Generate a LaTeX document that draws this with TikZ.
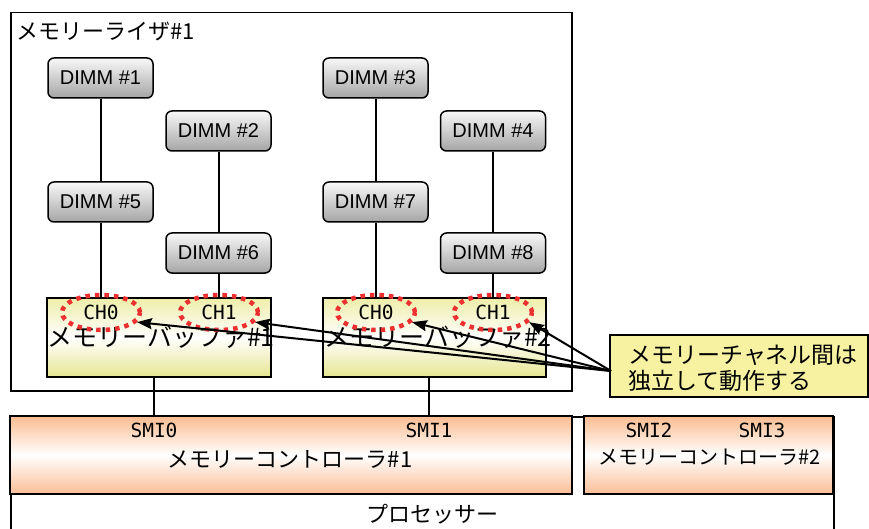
\documentclass[tikz,border=0pt]{standalone}
\usepackage{fontspec}
\setmainfont{Noto Sans CJK JP}
\newfontfamily\dimmfnt{Liberation Sans}
\newfontfamily\smifnt{DejaVu Sans Mono}
\usetikzlibrary{arrows.meta,shapes.geometric}
\definecolor{dimmtop}{RGB}{248,248,248}
\definecolor{dimmbot}{RGB}{165,165,165}
\definecolor{buftop}{RGB}{238,238,170}
\definecolor{bufbot}{RGB}{230,230,145}
\definecolor{ctrltop}{RGB}{250,188,145}
\definecolor{ctrlbot}{RGB}{250,190,150}
\definecolor{chred}{RGB}{236,48,48}
\definecolor{notefill}{RGB}{246,242,162}
\tikzset{
  dimmbox/.style={draw, rounded corners=6pt, line width=1.5pt, top color=dimmtop, bottom color=dimmbot,
    minimum width=105pt, minimum height=40pt, inner sep=0pt, font={\dimmfnt\fontsize{20pt}{20pt}\selectfont}},
  bufbox/.style={draw, line width=2pt, top color=buftop, bottom color=bufbot, middle color=white,
    minimum height=79pt, inner sep=0pt},
  ctrlbox/.style={draw, line width=1.6pt, top color=ctrltop, bottom color=ctrlbot, middle color=white,
    minimum height=78pt, inner sep=0pt},
  chell/.style={ellipse, draw=chred, line width=4.5pt, dash pattern=on 4.5pt off 5pt,
    minimum width=78pt, minimum height=35pt, inner sep=0pt, font={\smifnt\fontsize{19.5pt}{19.5pt}\selectfont}},
  smilbl/.style={inner sep=0pt, font={\smifnt\fontsize{19.5pt}{19.5pt}\selectfont}},
  jplbl/.style={inner sep=0pt, font={\fontsize{#1}{#1}\selectfont}},
  conn/.style={line width=2pt},
  arrowline/.style={line width=2pt, -{Stealth[length=15pt,width=11pt,inset=2pt]}},
}
\begin{document}
\begin{tikzpicture}[x=1pt,y=-1pt]
\useasboundingbox (0,0) rectangle (869,529);
\clip (0,0) rectangle (869,529);
\fill[white] (0,0) rectangle (869,529);

% processor
\node[draw, line width=1.5pt, minimum width=823pt, minimum height=160pt, anchor=north west, inner sep=0pt] (proc) at (10,416) {};
\node[jplbl=22pt] (procl) at (432,514) {プロセッサー};

% riser
\node[draw, line width=1.5pt, minimum width=561pt, minimum height=378pt, anchor=north west, inner sep=0pt] (riser) at (10,12) {};
\node[jplbl=22pt, anchor=west] (riserl) at (16,31) {メモリーライザ\#1};

% DIMMs
\node[dimmbox] (d1) at (100.5,78) {DIMM \#1};
\node[dimmbox] (d2) at (218.5,131) {DIMM \#2};
\node[dimmbox] (d3) at (375.5,78) {DIMM \#3};
\node[dimmbox] (d4) at (493,131) {DIMM \#4};
\node[dimmbox] (d5) at (100.5,202) {DIMM \#5};
\node[dimmbox] (d6) at (218.5,253) {DIMM \#6};
\node[dimmbox] (d7) at (375.5,202) {DIMM \#7};
\node[dimmbox] (d8) at (493,253) {DIMM \#8};

% buffers
\node[bufbox, minimum width=224pt] (b1) at (159,337.5) {};
\node[bufbox, minimum width=223pt] (b2) at (434.5,337.5) {};
\node[jplbl=25pt] (b1l) at (161,337) {メモリーバッファ\#1};
\node[jplbl=25pt] (b2l) at (438,337) {メモリーバッファ\#2};

% DIMM connectors
\draw[conn] (d1) -- (d5);
\draw[conn] (d5.south) -- (d5.south |- b1.north);
\draw[conn] (d2) -- (d6);
\draw[conn] (d6.south) -- (d6.south |- b1.north);
\draw[conn] (d3) -- (d7);
\draw[conn] (d7.south) -- (d7.south |- b2.north);
\draw[conn] (d4) -- (d8);
\draw[conn] (d8.south) -- (d8.south |- b2.north);

% channel ellipses
\node[chell] (c10) at (101,312.5) {CH0};
\node[chell] (c11) at (219,312.5) {CH1};
\node[chell] (c20) at (376,312.5) {CH0};
\node[chell] (c21) at (493,312.5) {CH1};

% controllers
\node[ctrlbox, minimum width=562pt] (m1) at (291,455) {};
\node[ctrlbox, minimum width=249pt] (m2) at (708.5,455) {};
\node[smilbl] (s0) at (154,430) {SMI0};
\node[smilbl] (s1) at (429,430) {SMI1};
\node[smilbl] (s2) at (649,430) {SMI2};
\node[smilbl] (s3) at (762,430) {SMI3};
\node[jplbl=22pt] (m1l) at (290,459) {メモリーコントローラ\#1};
\node[jplbl=20pt] (m2l) at (709.5,457) {メモリーコントローラ\#2};

% buffer to controller
\draw[conn] (b1.south -| s0) -- (s0 |- m1.north);
\draw[conn] (b2.south -| s1) -- (s1 |- m1.north);

% callout
\node[draw, line width=1.8pt, fill=notefill, minimum width=258pt, minimum height=62pt, inner sep=0pt] (note) at (739,366) {};
\node[jplbl=23pt, anchor=base west] (nt1) at (628,363) {メモリーチャネル間は};
\node[jplbl=23pt, anchor=base west] (nt2) at (628,389) {独立して動作する};
\coordinate (src) at (611,371);
\draw[arrowline] (src) -- (c10.-15);
\draw[arrowline] (src) -- (c11.-15);
\draw[arrowline] (src) -- (c20.-15);
\draw[arrowline] (src) -- (c21.-15);
\end{tikzpicture}
\end{document}
